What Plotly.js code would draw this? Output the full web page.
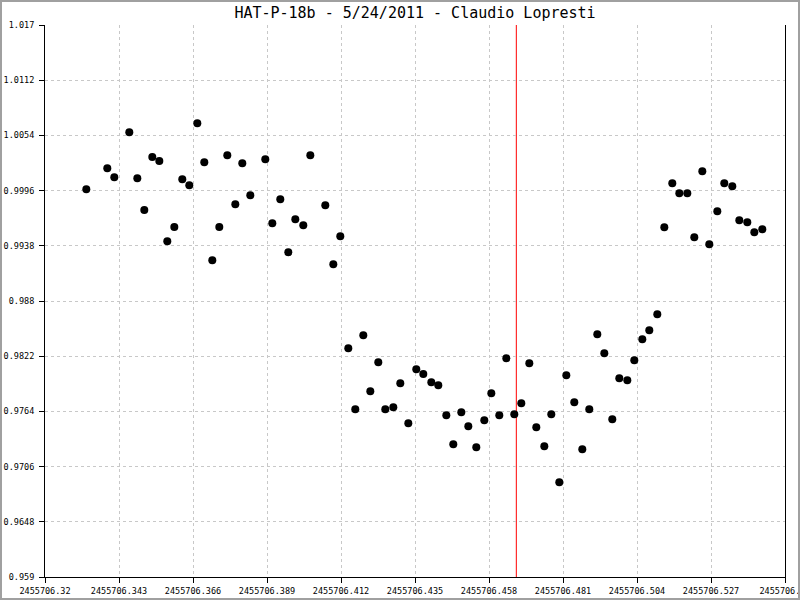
<!DOCTYPE html>
<html>
<head>
<meta charset="utf-8">
<script src="https://cdn.plot.ly/plotly-3.0.1.min.js"></script>
<style>
  html, body { margin: 0; padding: 0; background: #fff; }
  #wrap { position: relative; width: 800px; height: 600px; }
  #chart { width: 800px; height: 600px; }
  #frame { position: absolute; left: 0; top: 0; width: 800px; height: 600px;
           box-sizing: border-box; border: 2px solid #a0a0a0; pointer-events: none; }
</style>
</head>
<body>
<div id="wrap"><div id="chart"></div><div id="frame"></div></div>
<script>
// Julian Date of each observation
const jd = [
  2455706.33284, 2455706.33936, 2455706.34154, 2455706.34620, 2455706.34869,
  2455706.35086, 2455706.35335, 2455706.35553, 2455706.35801, 2455706.36019,
  2455706.36267, 2455706.36485, 2455706.36734, 2455706.36951, 2455706.37200,
  2455706.37417, 2455706.37666, 2455706.37915, 2455706.38132, 2455706.38381,
  2455706.38847, 2455706.39065, 2455706.39313, 2455706.39562, 2455706.39780,
  2455706.40028, 2455706.40246, 2455706.40712, 2455706.40961, 2455706.41178,
  2455706.41427, 2455706.41644, 2455706.41893, 2455706.42111, 2455706.42359,
  2455706.42577, 2455706.42826, 2455706.43043, 2455706.43292, 2455706.43540,
  2455706.43758, 2455706.44007, 2455706.44224, 2455706.44473, 2455706.44690,
  2455706.44939, 2455706.45157, 2455706.45405, 2455706.45654, 2455706.45872,
  2455706.46120, 2455706.46338, 2455706.46586, 2455706.46804, 2455706.47053,
  2455706.47270, 2455706.47519, 2455706.47736, 2455706.47985, 2455706.48203,
  2455706.48451, 2455706.48700, 2455706.48917, 2455706.49166, 2455706.49384,
  2455706.49632, 2455706.49850, 2455706.50099, 2455706.50316, 2455706.50565,
  2455706.50782, 2455706.51031, 2455706.51249, 2455706.51497, 2455706.51715,
  2455706.51963, 2455706.52181, 2455706.52430, 2455706.52647, 2455706.52896,
  2455706.53113, 2455706.53362, 2455706.53580, 2455706.53828, 2455706.54046,
  2455706.54294
];
// Relative flux
const flux = [
  0.99974, 1.00194, 1.00100, 1.00573, 1.00089,
  0.99756, 1.00313, 1.00271, 0.99427, 0.99578,
  1.00079, 1.00016, 1.00667, 1.00257, 0.99228,
  0.99578, 1.00331, 0.99816, 1.00247, 0.99911,
  1.00289, 0.99616, 0.99869, 0.99312, 0.99658,
  0.99595, 1.00331, 0.99806, 0.99186, 0.99480,
  0.98303, 0.97662, 0.98440, 0.97851, 0.98156,
  0.97662, 0.97683, 0.97935, 0.97515, 0.98082,
  0.98033, 0.97946, 0.97914, 0.97599, 0.97294,
  0.97631, 0.97483, 0.97263, 0.97546, 0.97830,
  0.97599, 0.98198, 0.97610, 0.97725, 0.98145,
  0.97473, 0.97273, 0.97610, 0.96895, 0.98019,
  0.97736, 0.97242, 0.97662, 0.98450, 0.98250,
  0.97557, 0.97988, 0.97967, 0.98177, 0.98398,
  0.98492, 0.98660, 0.99574, 1.00037, 0.99932,
  0.99932, 0.99469, 1.00163, 0.99396, 0.99743,
  1.00037, 1.00005, 0.99648, 0.99627, 0.99522,
  0.99553
];
// Mid-transit marker
const transitMid = 2455706.46649;

const xTickVals = [2455706.32, 2455706.343, 2455706.366, 2455706.389, 2455706.412,
                   2455706.435, 2455706.458, 2455706.481, 2455706.504, 2455706.527, 2455706.55];
const xTickText = ["2455706.32", "2455706.343", "2455706.366", "2455706.389", "2455706.412",
                   "2455706.435", "2455706.458", "2455706.481", "2455706.504", "2455706.527", "2455706.55"];
const yTickVals = [0.959, 0.9648, 0.9706, 0.9764, 0.9822, 0.988, 0.9938, 0.9996, 1.0054, 1.0112, 1.017];
const yTickText = ["0.959", "0.9648", "0.9706", "0.9764", "0.9822", "0.988", "0.9938", "0.9996", "1.0054", "1.0112", "1.017"];

const mono = "DejaVu Sans Mono, Liberation Mono, monospace";

const trace = {
  x: jd, y: flux, type: "scatter", mode: "markers",
  marker: { color: "#000", size: 8, line: { width: 0 } },
  hoverinfo: "skip", showlegend: false
};

const layout = {
  width: 800, height: 600,
  margin: { l: 45, r: 15, t: 25, b: 23, pad: 0 },
  paper_bgcolor: "#fff", plot_bgcolor: "#fff",
  title: {
    text: "HAT-P-18b - 5/24/2011 - Claudio Lopresti",
    font: { family: mono, size: 15, color: "#000" },
    x: 0.5, xref: "paper", xanchor: "center",
    y: 0.979, yref: "container", yanchor: "middle"
  },
  xaxis: {
    range: [2455706.32, 2455706.55], autorange: false,
    tickmode: "array", tickvals: xTickVals, ticktext: xTickText,
    ticks: "outside", ticklen: 5, tickcolor: "#000", tickwidth: 1,
    showline: true, linecolor: "#000", linewidth: 1, mirror: false,
    showgrid: true, gridcolor: "#c8c8c8", gridwidth: 1, griddash: "3px,3px",
    zeroline: false, ticklabeloverflow: "allow", ticklabelstandoff: 1,
    tickfont: { family: mono, size: 8.5, color: "#000" }
  },
  yaxis: {
    range: [0.959, 1.017], autorange: false,
    tickmode: "array", tickvals: yTickVals, ticktext: yTickText,
    ticks: "outside", ticklen: 5, tickcolor: "#000", tickwidth: 1,
    showline: true, linecolor: "#000", linewidth: 1, mirror: true,
    showgrid: true, gridcolor: "#c8c8c8", gridwidth: 1, griddash: "3px,3px",
    zeroline: false, ticklabelstandoff: 3,
    tickfont: { family: mono, size: 8.5, color: "#000" }
  },
  shapes: [{
    type: "line", xref: "x", yref: "paper",
    x0: transitMid, x1: transitMid, y0: 0, y1: 1,
    line: { color: "#ff0000", width: 1 }, layer: "below"
  }]
};

Plotly.newPlot("chart", [trace], layout, { displayModeBar: false, staticPlot: true });
</script>
</body>
</html>
